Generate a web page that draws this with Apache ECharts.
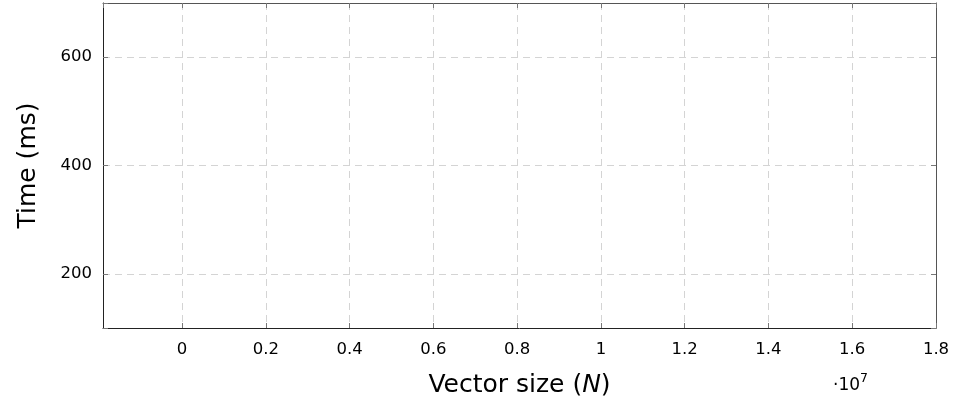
<!DOCTYPE html>
<html>
<head>
<meta charset="utf-8">
<script src="https://cdn.jsdelivr.net/npm/echarts@6/dist/echarts.min.js"></script>
<style>
html,body{margin:0;padding:0;background:#fff;}
#c{width:958px;height:404px;}
</style>
</head>
<body>
<div id="c"></div>
<script>
// Axis ranges (x in units of 1e7)
const xRange = [-0.1886, 1.8];
const yRange = [100, 700];
const xTickLabels = ['0','0.2','0.4','0.6','0.8','1','1.2','1.4','1.6','1.8'];
const yTickLabels = ['200','400','600'];
// The reference chart contains no plotted data
const seriesX = [];
const seriesY = [];

const FONT = 'DejaVu Sans';
const chart = echarts.init(document.getElementById('c'), null, {renderer:'canvas'});

function fmtX(v){
  if (Math.abs(v*10 - Math.round(v*10)) > 1e-6) return '';
  const s = String(Math.round(v*10)/10);
  return xTickLabels.indexOf(s) >= 0 ? s : '';
}
function fmtY(v){
  const s = String(Math.round(v));
  return yTickLabels.indexOf(s) >= 0 ? s : '';
}
const axisLine = {show:true, onZero:false, lineStyle:{color:'#222', width:1}};
const axisLine2 = {show:true, onZero:false, lineStyle:{color:'#555', width:1}};
const axisTick = {show:true, inside:true, length:5, lineStyle:{color:'#777', width:1}};
const splitLine = {show:true, lineStyle:{color:'#d4d4d4', type:[7,5], width:1}};

chart.setOption({
  animation:false,
  backgroundColor:'#fff',
  grid:{left:103, right:22, top:3, bottom:76, containLabel:false, outerBoundsMode:'none'},
  xAxis:[{
    type:'value', min:xRange[0], max:xRange[1], splitNumber:10,
    axisLine, axisTick, splitLine,
    axisLabel:{show:true, showMinLabel:false, formatter:fmtX, color:'#000', fontFamily:FONT, fontSize:16.5, margin:13},
    name:'{a|Vector size (}{b|N}{a|)}', nameLocation:'middle', nameGap:45,
    nameTextStyle:{rich:{
      a:{fontFamily:FONT, fontSize:25, color:'#000'},
      b:{fontFamily:FONT, fontSize:25, color:'#000', fontStyle:'italic'}
    }}
  },{
    type:'value', position:'top', min:xRange[0], max:xRange[1], splitNumber:10,
    axisLine:axisLine2, axisTick, splitLine:{show:false}, axisLabel:{show:false}
  }],
  yAxis:[{
    type:'value', min:yRange[0], max:yRange[1], splitNumber:3,
    axisLine, axisTick, splitLine,
    axisLabel:{show:true, formatter:fmtY, color:'#000', fontFamily:FONT, fontSize:16.5, margin:11},
    name:'Time (ms)', nameLocation:'middle', nameGap:62,
    nameTextStyle:{fontFamily:FONT, fontSize:25, color:'#000'}
  },{
    type:'value', position:'right', min:yRange[0], max:yRange[1], splitNumber:3,
    axisLine:axisLine2, axisTick, splitLine:{show:false}, axisLabel:{show:false}
  }],
  graphic:[{
    type:'text', left:833, top:372,
    style:{text:'{a|·10}{s|7}', rich:{
      a:{fontFamily:FONT, fontSize:17, color:'#000', verticalAlign:'bottom'},
      s:{fontFamily:FONT, fontSize:12.5, color:'#000', verticalAlign:'top', padding:[0,0,9,0]}
    }}
  }],
  series:[{
    type:'line', xAxisIndex:0, yAxisIndex:0,
    data: seriesX.map((x,i)=>[x, seriesY[i]]),
    symbol:'none'
  }]
});
</script>
</body>
</html>
